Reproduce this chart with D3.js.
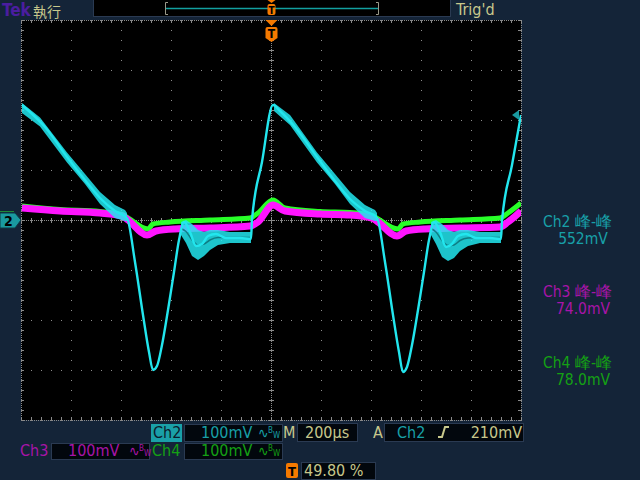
<!DOCTYPE html>
<html><head><meta charset="utf-8">
<script src="https://cdn.jsdelivr.net/npm/d3@7"></script>
<style>
html,body{margin:0;padding:0;background:#142438;overflow:hidden;}
svg{display:block;}
text{font-family:"DejaVu Sans Condensed","DejaVu Sans",sans-serif;font-stretch:condensed;}
.cjk{font-family:"Noto Sans CJK TC","Noto Sans CJK SC","Noto Sans CJK JP",sans-serif;font-stretch:normal;}
</style></head><body>
<svg id="c" width="640" height="480"></svg>
<script>
// ---- data (time in µs, voltage in mV) ----
const timeDomain = [-1000, 1000];   // 200 µs/div, 10 div
const voltDomain = [-400, 400];     // 100 mV/div, 8 div
const trigLevel = 210;               // mV
const ch2Trace = [[-996,230],[-964,216],[-904,186],[-816,126],[-744,80],[-684,44],[-624,18],[-576,4],
  [-544,-84],[-512,-190],[-488,-264],[-472,-300],[-456,-292],[-436,-250],[-412,-180],[-388,-104],[-368,-40],
  [-348,-4],[-324,-24],[-300,-52],[-276,-48],[-252,-32],[-220,-28],[-180,-36],[-124,-36],[-80,-38],
  [-76,0],[-36,116],[8,230],[36,218],[96,186],[184,126],[256,78],[316,42],[376,18],[424,4],
  [456,-84],[488,-190],[512,-264],[528,-304],[544,-294],[564,-250],[588,-180],[612,-104],[632,-40],
  [652,-4],[676,-24],[700,-54],[724,-48],[748,-32],[780,-28],[820,-36],[876,-36],[920,-38],
  [924,-2],[964,110],[1000,210]];
// persistence envelopes [t, high, low]
const ch2SlopeA = [[-996,234,214],[-924,205,187],[-816,135,115],[-744,92,72],[-684,56,32],[-624,30,4],[-584,20,-2],[-576,14,-2]];
const ch2RingA  = [[-360,-4,-30],[-340,0,-46],[-316,-8,-72],[-292,-20,-80],[-268,-24,-72],[-244,-20,-60],[-212,-20,-50],[-164,-24,-46],[-80,-24,-46]];
const ch2SlopeB = [[12,234,218],[76,210,190],[184,135,115],[256,92,72],[316,56,32],[376,30,4],[416,20,-2],[424,14,-2]];
const ch2RingB  = [[640,-4,-30],[660,0,-48],[684,-8,-74],[708,-20,-82],[732,-24,-76],[756,-20,-62],[788,-20,-52],[836,-24,-46],[920,-24,-46]];
const ch3Trace = [[-996,24],[-844,18],[-684,14],[-596,8],[-572,0],[-496,-30],[-460,-22],[-384,-18],[-244,-16],[-84,-12],
  [-52,-4],[8,30],[56,18],[196,12],[316,10],[404,4],[428,-4],[504,-32],[540,-22],[616,-18],[756,-16],[916,-14],[948,-4],[1000,18]];
const ch4Trace = [[-996,28],[-844,21],[-684,17],[-596,11],[-572,4],[-492,-18],[-472,-8],[-404,-4],[-244,0],[-84,4],
  [-52,14],[8,40],[56,24],[196,17],[316,15],[404,9],[428,2],[508,-18],[528,-8],[596,-4],[756,0],[916,4],[948,14],[1000,34]];
const measLabels = ["Ch2 峰-峰","Ch3 峰-峰","Ch4 峰-峰"];
const measValues = ["552mV","74.0mV","78.0mV"];
const chScales = ["100mV","100mV","100mV"];
const timeBase = "200µs";
const trigPos = "49.80 %";

// ---- colours ----
const C = {bg:"#142438", khaki:"#c8c88c", teal:"#18a0a8", cyan:"#22e6ee", mag:"#ff14ff", grn:"#28ff28",
  magT:"#a814a8", grnT:"#14a014", orange:"#f57a00", box:"#02070d", boxLine:"#2a3a52", grid:"#8a8a8a"};

const svg = d3.select("#c");
svg.append("rect").attr("width",640).attr("height",480).attr("fill",C.bg);

const x = d3.scaleLinear().domain(timeDomain).range([21,521]);
const y = d3.scaleLinear().domain(voltDomain).range([420,20]);

// graticule
svg.append("rect").attr("x",x(-1000)).attr("y",y(400)).attr("width",x(1000)-x(-1000)).attr("height",y(-400)-y(400)).attr("fill","#000");
const grid = svg.append("g").attr("fill",C.grid);
const majT = d3.range(-1000,1001,200), majV = d3.range(-400,401,100);
const minT = d3.range(-1000,1001,40), minV = d3.range(-400,401,20);
majT.forEach(t=>minV.forEach(v=>grid.append("rect").attr("x",Math.round(x(t))).attr("y",Math.round(y(v))).attr("width",1).attr("height",1)));
majV.forEach(v=>minT.forEach(t=>grid.append("rect").attr("x",Math.round(x(t))).attr("y",Math.round(y(v))).attr("width",1).attr("height",1)));
// centre-line and border ticks
const tick = svg.append("g").attr("stroke",C.grid).attr("stroke-width",1).attr("shape-rendering","crispEdges");
minT.forEach(t=>{
  const px=Math.round(x(t))+0.5;
  tick.append("line").attr("x1",px).attr("x2",px).attr("y1",y(0)-2).attr("y2",y(0)+3);
  tick.append("line").attr("x1",px).attr("x2",px).attr("y1",y(400)).attr("y2",y(400)+3);
  tick.append("line").attr("x1",px).attr("x2",px).attr("y1",y(-400)-3).attr("y2",y(-400));
});
minV.forEach(v=>{
  const py=Math.round(y(v))+0.5;
  tick.append("line").attr("y1",py).attr("y2",py).attr("x1",x(0)-2).attr("x2",x(0)+3);
  tick.append("line").attr("y1",py).attr("y2",py).attr("x1",x(-1000)).attr("x2",x(-1000)+3);
  tick.append("line").attr("y1",py).attr("y2",py).attr("x1",x(1000)-3).attr("x2",x(1000));
});
[[x(-1000),y(400),x(1000),y(400)],[x(-1000),y(-400),x(1000),y(-400)],[x(-1000),y(400),x(-1000),y(-400)],[x(1000),y(400),x(1000),y(-400)],
 [x(-1000),y(0),x(1000),y(0)],[x(0),y(400),x(0),y(-400)]].forEach(l=>{
  tick.append("line").attr("x1",Math.round(l[0])+0.5).attr("x2",Math.round(l[2])+0.5).attr("y1",Math.round(l[1])+0.5).attr("y2",Math.round(l[3])+0.5).attr("stroke-dasharray","1,1");
});

// waveforms
svg.append("clipPath").attr("id","pc").append("rect").attr("x",x(-1000)).attr("y",y(400)).attr("width",x(1000)-x(-1000)).attr("height",y(-400)-y(400));
const wave = svg.append("g").attr("clip-path","url(#pc)");
const line = d3.line().x(d=>x(d[0])).y(d=>y(d[1])).curve(d3.curveMonotoneX);
const area = d3.area().x(d=>x(d[0])).y0(d=>y(d[2])).y1(d=>y(d[1])).curve(d3.curveLinear);
wave.append("path").attr("d",line(ch4Trace)).attr("fill","none").attr("stroke",C.grn).attr("stroke-width",5).attr("stroke-linejoin","round");
wave.append("path").attr("d",line(ch3Trace)).attr("fill","none").attr("stroke",C.mag).attr("stroke-width",7).attr("stroke-linejoin","round");
[ch2SlopeA,ch2RingA,ch2SlopeB,ch2RingB].forEach(b=>{
  wave.append("path").attr("d",area(b)).attr("fill",C.cyan).attr("opacity",0.85);
});
[ch2RingA,ch2RingB].forEach(b=>{
  wave.append("path").attr("d",line(b.map(d=>[d[0],(d[1]+d[2])/2]))).attr("fill","none").attr("stroke","#0b6a70").attr("stroke-width",1.5).attr("opacity",0.8);
});
wave.append("path").attr("d",line(ch2Trace)).attr("fill","none").attr("stroke",C.cyan).attr("stroke-width",2.4).attr("stroke-linejoin","round");

// trigger markers
const tx = x(0)+0.5;
svg.append("path").attr("d",`M${tx-6},20 L${tx+6},20 L${tx},26 Z`).attr("fill",C.orange);
svg.append("path").attr("d",`M${tx-6},29 Q${tx-6},27 ${tx-4},27 L${tx+4},27 Q${tx+6},27 ${tx+6},29 L${tx+6},38 L${tx},42 L${tx-6},38 Z`).attr("fill",C.orange);
svg.append("text").attr("x",tx).attr("y",38).attr("text-anchor","middle").attr("font-size",12).attr("font-weight","bold").attr("fill","#000").text("T");
// ch2 ground marker
const gy = y(0);
svg.append("path").attr("d",`M0,${gy-7} L15,${gy-7} L21,${gy} L15,${gy+8} L0,${gy+8} Z`).attr("fill","#1a9aa0").attr("stroke","#0c3a44");
svg.append("line").attr("x1",0).attr("x2",14).attr("y1",gy-8.5).attr("y2",gy-8.5).attr("stroke","#1e8a3a").attr("stroke-width",1);
svg.append("text").attr("x",4).attr("y",gy+6).attr("font-size",14).attr("font-weight","bold").attr("fill","#000").text("2");
// trigger level arrow
const ty = y(trigLevel);
svg.append("path").attr("d",`M${x(1000)-9},${ty} L${x(1000)-2},${ty-5} L${x(1000)-2},${ty+5} Z`).attr("fill","#1a9aa0");

// top bar
svg.append("text").attr("x",2).attr("y",16).attr("font-size",17).attr("font-weight","bold").attr("fill","#4b1da0").text("Tek");
svg.append("text").attr("class","cjk").attr("x",33).attr("y",16.5).attr("font-size",14).attr("fill",C.khaki).text("執行");
svg.append("rect").attr("x",93.5).attr("y",-1).attr("width",357).attr("height",17.5).attr("fill","#000").attr("stroke",C.boxLine);
svg.append("line").attr("x1",165).attr("x2",379).attr("y1",8.5).attr("y2",8.5).attr("stroke","#12a0a0").attr("stroke-width",1.5);
svg.append("path").attr("d","M168,2.5 L165.5,2.5 L165.5,14.5 L168,14.5 M376,2.5 L378.5,2.5 L378.5,14.5 L376,14.5").attr("fill","none").attr("stroke","#9a9a8a");
svg.append("path").attr("d",`M${tx-4},0 L${tx+4},0 L${tx},3 Z`).attr("fill",C.orange);
svg.append("rect").attr("x",tx-4).attr("y",4).attr("width",8).attr("height",11).attr("rx",2).attr("fill",C.orange);
svg.append("text").attr("x",tx).attr("y",14).attr("text-anchor","middle").attr("font-size",10).attr("font-weight","bold").attr("fill","#000").text("T");
svg.append("text").attr("x",456).attr("y",15).attr("font-size",16).attr("fill",C.khaki).text("Trig'd");

// right measurements
const mCols=[C.teal,C.magT,C.grnT], mY=[227,297,368];
measLabels.forEach((s,i)=>{
  svg.append("text").attr("x",543).attr("y",mY[i]).attr("font-size",15.5).attr("fill",mCols[i]).text(s);
  svg.append("text").attr("x",583).attr("y",mY[i]+17).attr("text-anchor","middle").attr("font-size",15.5).attr("fill",mCols[i]).text(measValues[i]);
});

// bottom readouts
function box(x0,y0,w,h){svg.append("rect").attr("x",x0+0.5).attr("y",y0+0.5).attr("width",w).attr("height",h).attr("fill",C.box).attr("stroke",C.boxLine);}
function bw(x0,base,col){
  svg.append("text").attr("x",x0).attr("y",base).attr("font-size",14).attr("fill",col).text("∿");
  svg.append("text").attr("x",x0+10).attr("y",base-5).attr("font-size",8).attr("fill",col).text("B");
  svg.append("text").attr("x",x0+15).attr("y",base).attr("font-size",8).attr("fill",col).text("W");
}
const fs=16;
// row 1
svg.append("rect").attr("x",151).attr("y",424).attr("width",31).attr("height",18).attr("fill","#1aa0a8");
svg.append("text").attr("x",153).attr("y",438).attr("font-size",fs).attr("fill","#0c1c2c").text("Ch2");
box(184,424,98,17);
svg.append("text").attr("x",201).attr("y",438).attr("font-size",fs).attr("fill",C.teal).text(chScales[0]);
bw(258,438,C.teal);
svg.append("text").attr("x",283).attr("y",438).attr("font-size",fs).attr("fill",C.khaki).text("M");
box(297,423,60,18);
svg.append("text").attr("x",305).attr("y",438).attr("font-size",fs).attr("fill",C.khaki).text(timeBase);
svg.append("text").attr("x",373).attr("y",438).attr("font-size",fs).attr("fill",C.khaki).text("A");
box(384,423,139,18);
svg.append("text").attr("x",397).attr("y",438).attr("font-size",fs).attr("fill",C.teal).text("Ch2");
svg.append("path").attr("d","M438,437 L442,437 L445,427 L449,427").attr("fill","none").attr("stroke",C.khaki).attr("stroke-width",2);
svg.append("text").attr("x",522).attr("y",438).attr("text-anchor","end").attr("font-size",fs).attr("fill",C.khaki).text(trigLevel+"mV");
// row 2
svg.append("text").attr("x",20).attr("y",456).attr("font-size",fs).attr("fill",C.magT).text("Ch3");
box(51,443,98,16);
svg.append("text").attr("x",68).attr("y",456).attr("font-size",fs).attr("fill",C.magT).text(chScales[1]);
bw(129,456,C.magT);
svg.append("text").attr("x",152).attr("y",456).attr("font-size",fs).attr("fill",C.grnT).text("Ch4");
box(184,443,98,16);
svg.append("text").attr("x",201).attr("y",456).attr("font-size",fs).attr("fill",C.grnT).text(chScales[2]);
bw(258,456,C.grnT);
// row 3
svg.append("rect").attr("x",286).attr("y",463).attr("width",12).attr("height",15).attr("rx",2).attr("fill",C.orange);
svg.append("text").attr("x",292).attr("y",476).attr("text-anchor","middle").attr("font-size",13).attr("font-weight","bold").attr("fill","#000").text("T");
box(301,462,74,17);
svg.append("text").attr("x",304).attr("y",476).attr("font-size",fs).attr("fill",C.khaki).text(trigPos);
</script></body></html>
